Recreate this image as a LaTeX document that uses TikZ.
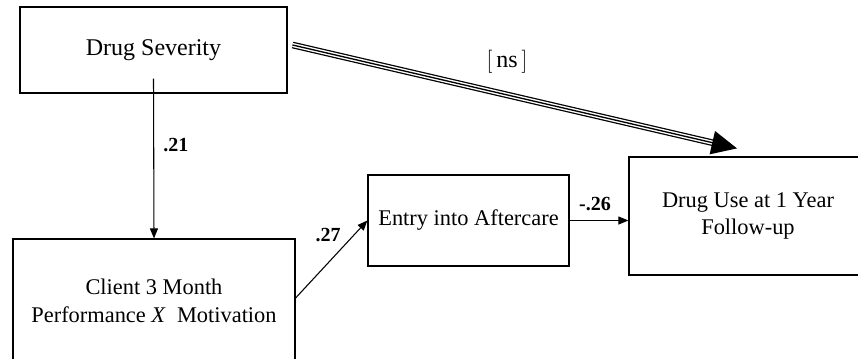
\documentclass[tikz,border=0pt]{standalone}
\usepackage{fontspec}
\setmainfont{Liberation Serif}
\usetikzlibrary{arrows.meta,calc}
\begin{document}
\begin{tikzpicture}[x=0.75pt,y=-0.75pt,
  box/.style={draw, line width=0.9pt, align=center, inner sep=0pt,
              font=\fontsize{16.8}{20.6}\selectfont},
  link/.style={line width=0.8pt, -{Triangle[length=7.5pt,width=6pt]}},
  coef/.style={font=\bfseries\fontsize{15}{17}\selectfont, inner sep=0pt}]
\useasboundingbox (0,0) rectangle (858,358);
\clip (0,0) rectangle (858,358);

% boxes
\node[box, font=\fontsize{18}{21}\selectfont, minimum width=200.25pt, minimum height=64.5pt]
  (ds) at (153.5,50) {Drug Severity};
\node[box, minimum width=211.5pt, minimum height=93pt] (cl) at (154,301)
  {Client 3 Month\\Performance \textit{X}\ \ Motivation};
\node[box, minimum width=150.75pt, minimum height=68.25pt] (en) at (468.5,220.5) {Entry into Aftercare};
\node[box, minimum width=178.5pt, minimum height=88.5pt] (du) at (748,216)
  {Drug Use at 1 Year\\Follow-up};

% single-line paths
\draw[link] ($(ds.south)+(0,-15)$) -- (cl.north);
\node[coef, anchor=west] (l21) at (163,145) {.21};
\draw[link] ($(cl.east)+(0,-3)$) -- (en.west);
\node[coef] (l27) at (328,235) {.27};
\draw[link] (en.east) -- (en.east -| du.west);
\node[coef] (l26) at (595,204) {-.26};

% triple-line direct path
\coordinate (dsout) at ($(ds.east)+(5,-5)$);
\coordinate (tip) at ($(du.north)+(-11,-8)$);
\coordinate (headbase) at ($(tip)!19pt!(dsout)$);
\coordinate (lineend) at ($(tip)!16pt!(dsout)$);
\draw[line width=5pt] (dsout) -- (lineend);
\draw[white, line width=3.1pt] (dsout) -- (lineend);
\draw[line width=1pt] (dsout) -- (lineend);
\fill (tip) -- ($(headbase)!9pt!90:(tip)$) -- ($(headbase)!9pt!-90:(tip)$) -- cycle;
\node[font=\fontsize{18}{21}\selectfont] (ns) at (507,62) {$\Big[$\,ns\,$\Big]$};
\end{tikzpicture}
\end{document}
